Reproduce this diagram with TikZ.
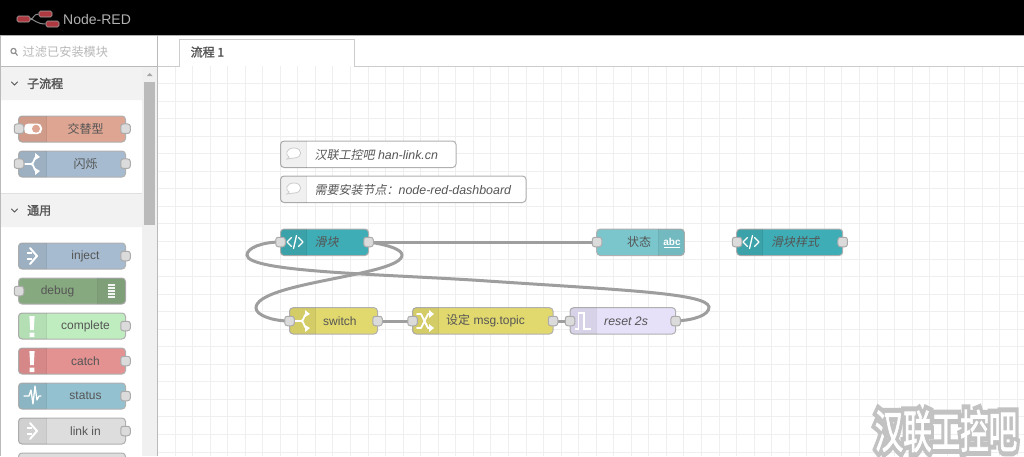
\documentclass[tikz,border=0pt]{standalone}
\usepackage{fontspec}
\setmainfont{Liberation Sans}
\newfontfamily\cj{Noto Sans CJK SC}
\newfontfamily\cjs[FakeSlant=0.2]{Noto Sans CJK SC}
\newfontfamily\cjb[FakeBold=2]{Noto Sans CJK SC}
\newfontfamily\cjhalo[FakeBold=24]{Noto Sans CJK SC}
\usetikzlibrary{calc}
\pgfdeclarelayer{under}
\pgfsetlayers{under,main}
\definecolor{wirec}{HTML}{9E9E9E}
\definecolor{gridc}{HTML}{EFEFEF}
\definecolor{edgec}{HTML}{B0B0B0}
\definecolor{portedge}{HTML}{ABABAB}
\definecolor{txt}{HTML}{555555}
\definecolor{cswap}{HTML}{DEA592}
\definecolor{cblue}{HTML}{A6BBCF}
\definecolor{cdebug}{HTML}{87A980}
\definecolor{ccomp}{HTML}{C0EDC0}
\definecolor{ccatch}{HTML}{E49191}
\definecolor{cstat}{HTML}{94C1D0}
\definecolor{clink}{HTML}{DDDDDD}
\definecolor{cteal}{HTML}{3FADB5}
\definecolor{cyel}{HTML}{E2D96E}
\definecolor{cpurp}{HTML}{E6E0F8}
\definecolor{ctext}{HTML}{7AC6CC}
\definecolor{lred}{HTML}{AD3A40}
\definecolor{halo}{HTML}{C2C2C2}
\tikzset{
 x=1pt,y=-1pt,
 body/.style={draw=edgec,line width=1pt,rounded corners=3.5pt,inner sep=0pt,outer sep=0pt},
 portnode/.style={draw=portedge,fill=black!14,line width=1pt,rounded corners=2.5pt,minimum size=9.5pt,inner sep=0pt},
 lbl/.style={font=\fontsize{12}{14}\selectfont,text=txt,inner sep=0pt},
 lbli/.style={font=\fontsize{12}{14}\selectfont\itshape,text=txt,inner sep=0pt},
 cat/.style={font=\fontsize{12}{14}\selectfont\cjb,text=txt,inner sep=0pt},
 wire/.style={draw=wirec,line width=3pt,line cap=round},
 ic/.style={draw=white,line width=1.5pt,line cap=round,line join=round},
 chev/.style={draw=txt,line width=1pt,line cap=round},
 logonode/.style={fill=lred,draw=black!35,line width=.6pt,rounded corners=1.5pt,minimum width=13pt,minimum height=6pt,inner sep=0pt},
}
\newcommand\flowbox[6]{%
 \pgfmathsetmacro\cxx{(#2+#4)/2}\pgfmathsetmacro\cyy{(#3+#5)/2}%
 \pgfmathsetmacro\www{#4-#2}\pgfmathsetmacro\hhh{#5-#3}%
 \node[body,fill=#6,minimum width=\www pt,minimum height=\hhh pt] (#1) at (\cxx,\cyy) {};}
\newcommand\panel[4]{%
 \pgfmathsetmacro\pxx{#1+#4}%
 \fill[fill=black,fill opacity=.06,rounded corners=3.5pt] (\pxx,#2) -- (#1,#2) -- (#1,#3) [sharp corners] -- (\pxx,#3) -- cycle;
 \draw[draw=black,draw opacity=.07,line width=.8pt] (\pxx,#2) -- (\pxx,#3);}
\newcommand\iconcode[2]{\begin{scope}[shift={(#1,#2)}]
 \draw[ic,line width=1.3pt] (-3.5,-4.5)--(-8,0)--(-3.5,4.5) (3.5,-4.5)--(8,0)--(3.5,4.5) (1.5,-6.5)--(-1.5,6.5);\end{scope}}
\newcommand\iconswitch[2]{\begin{scope}[shift={(#1,#2)}]
 \draw[ic,line width=1.8pt] (-8,0)--(-2,0) .. controls (1,0) and (1,-6) .. (3,-7) (-2,0) .. controls (1,0) and (1,6) .. (3,7);
 \fill[white] (2,-11)--(7,-7)--(2,-4)--cycle (2,11)--(7,7)--(2,4)--cycle;\end{scope}}
\newcommand\iconshuffle[2]{\begin{scope}[shift={(#1,#2)}]
 \draw[ic,line width=1.8pt] (-8,-7) -- (-4,-7) -- (3,7) -- (5,7) (-8,7) -- (-4,7) -- (3,-7) -- (5,-7);
 \fill[white] (4,-11)--(9,-7)--(4,-3)--cycle (4,11)--(9,7)--(4,3)--cycle;\end{scope}}
\newcommand\iconinject[2]{\begin{scope}[shift={(#1,#2)}]
 \draw[ic,line width=2pt,line cap=butt] (-5,-3)--(0,-3) (-5,3)--(0,3);
 \draw[ic,line width=2pt] (-2,-8)--(5,0)--(-2,8);\end{scope}}
\newcommand\iconbang[2]{\fill[white] ($(#1,#2)+(-2.6,-10)$) -- ($(#1,#2)+(2.6,-10)$) -- ($(#1,#2)+(1.8,4)$) -- ($(#1,#2)+(-1.8,4)$) -- cycle ($(#1,#2)+(-2.4,6.5)$) rectangle ($(#1,#2)+(2.4,11)$);}
\newcommand\iconbubble[2]{\begin{scope}[shift={(#1,#2)}]
 \draw[draw=black!20,fill=white,line width=.8pt] (-7,5) .. controls (-7,5) and (-5,3.5) .. (-5,3) .. controls (-9,1) and (-8,-6) .. (0,-6) .. controls (9,-6) and (9,4) .. (0,4) .. controls (-3,4) and (-5,5) .. (-7,5) -- cycle;\end{scope}}
\begin{document}
\begin{tikzpicture}
\useasboundingbox (0,0) rectangle (1024,456);
\begin{pgfonlayer}{under}
 \fill[white] (0,0) rectangle (1024,456);
 \foreach \i in {0,...,49} {\pgfmathsetmacro\gx{175+17.55*\i}\draw[gridc,line width=1pt] (\gx,66) -- (\gx,456);}
 \foreach \i in {0,...,21} {\pgfmathsetmacro\gy{83.5+17.55*\i}\draw[gridc,line width=1pt] (158,\gy) -- (1024,\gy);}
\end{pgfonlayer}
% header
\fill[black] (0,0) rectangle (1024,35);
\draw[edgec,line width=1pt] (0,35.5) -- (1024,35.5);
\node[logonode] (logoa) at (23.5,19) {};
\node[logonode] (logob) at (45.5,14) {};
\node[logonode] (logoc) at (52.5,24) {};
\draw[black!45,line width=1pt] (logoa.east) .. controls (34,19) and (33,14) .. (logob.west);
\draw[black!45,line width=1pt] (logoa.east) .. controls (34,19) and (36,24) .. (logoc.west);
\node[font=\fontsize{14}{16}\selectfont,text=black!30,inner sep=0pt,anchor=west] (title) at (63,19) {Node-RED};
% palette
\fill[white] (0,36) rectangle (157,456);
\fill[black!5] (1,67) rectangle (142,100) (1,193) rectangle (142,227);
\draw[black!12,line width=.8pt] (1,193) -- (142,193);
\fill[black!6] (142,67) rectangle (157,456);
\fill[black!27] (144,82) rectangle (155,225);
\fill[black!35] (147,76) -- (152.5,76) -- (149.7,73) -- cycle;
\draw[black!27,line width=1pt] (0.5,36) -- (0.5,456) (157.5,36) -- (157.5,456) (0,66.5) -- (157,66.5);
% search
\draw[black!45,line width=1.1pt] (13.5,51) circle (2.6pt) (15.5,53) -- (17.5,55.5);
\node[font=\fontsize{12.2}{14}\selectfont\cj,text=black!28,inner sep=0pt,anchor=west] (search) at (22.5,52) {过滤已安装模块};
% tab
\draw[black!20,line width=1pt] (157.5,66.5) -- (179.5,66.5) -- (179.5,39.5) -- (354.5,39.5) -- (354.5,66.5) -- (1024,66.5);
\node[font=\fontsize{12}{14}\selectfont\cjb,text=txt,inner sep=0pt,anchor=west] (tab) at (190.5,52) {流程 1};
% categories
\draw[chev] (11.5,82) -- (14.5,85) -- (17.5,82);
\node[cat,anchor=west] (cata) at (27,83.5) {子流程};
\draw[chev] (11.5,209) -- (14.5,212) -- (17.5,209);
\node[cat,anchor=west] (catb) at (27,210.5) {通用};
% palette nodes
\flowbox{p1}{18.5}{116}{125.5}{142}{cswap}
\panel{18.5}{116}{142}{28}
\fill[white,rounded corners=4.5pt] (24,123.5) rectangle (42,134);
\fill[cswap] (36,128.7) circle (4pt);
\node[portnode] (p1l) at (19,128.7) {}; \node[portnode] (p1r) at (125.5,128.7) {};
\node[lbl,font=\fontsize{12}{14}\selectfont\cj] (p1t) at (85.5,128.5) {交替型};
\flowbox{p2}{18.5}{151}{125.5}{177}{cblue}
\panel{18.5}{151}{177}{28}
\iconswitch{33}{164}
\node[portnode] (p2l) at (19,163.7) {}; \node[portnode] (p2r) at (125.5,163.7) {};
\node[lbl,font=\fontsize{12}{14}\selectfont\cj] (p2t) at (85.5,163.5) {闪烁};
\flowbox{p3}{18.5}{243}{125.5}{269}{cblue}
\panel{18.5}{243}{269}{28}
\iconinject{32}{256}
\node[portnode] (p3r) at (125.5,256) {};
\node[lbl] (p3t) at (85.5,256) {inject};
\flowbox{p4}{18.5}{278}{125.5}{304}{cdebug}
\panel{125.5}{278}{304}{-28}
\foreach \yy in {285,288,291,294,297} {\draw[white,opacity=.9,line width=1.2pt] (107.5,\yy) -- (115,\yy);}
\node[portnode] (p4l) at (19,291) {};
\node[lbl] (p4t) at (57.5,291) {debug};
\flowbox{p5}{18.5}{313}{125.5}{339}{ccomp}
\panel{18.5}{313}{339}{28}
\iconbang{32}{326}
\node[portnode] (p5r) at (125.5,326) {};
\node[lbl] (p5t) at (85.5,326) {complete};
\flowbox{p6}{18.5}{348}{125.5}{374}{ccatch}
\panel{18.5}{348}{374}{28}
\iconbang{32}{361}
\node[portnode] (p6r) at (125.5,361) {};
\node[lbl] (p6t) at (85.5,361) {catch};
\flowbox{p7}{18.5}{383}{125.5}{409}{cstat}
\panel{18.5}{383}{409}{28}
\draw[ic,line width=1.3pt] (24,396) -- (29,396) -- (31,390) -- (33,404) -- (35,386) -- (37,400) -- (39,396) -- (41,396);
\node[portnode] (p7r) at (125.5,396) {};
\node[lbl] (p7t) at (85.5,396) {status};
\flowbox{p8}{18.5}{418}{125.5}{444}{clink}
\panel{18.5}{418}{444}{28}
\iconinject{32}{431}
\node[portnode] (p8r) at (125.5,431) {};
\node[lbl] (p8t) at (85.5,431) {link in};
\flowbox{p9}{18.5}{453}{125.5}{479}{clink}
% comments
\flowbox{c1}{280.5}{141}{456}{167.5}{white}
\panel{280.5}{141}{167.5}{26}
\iconbubble{294}{154}
\node[lbli,anchor=west] (c1t) at (314.5,154.5) {{\cjs 汉联工控吧} \fontsize{12.4}{14}\selectfont han-link.cn};
\flowbox{c2}{280.5}{176}{526}{202.5}{white}
\panel{280.5}{176}{202.5}{26}
\iconbubble{294}{189}
\node[lbli,anchor=west] (c2t) at (314.5,189.5) {{\cjs 需要安装节点：}\fontsize{12.4}{14}\selectfont node-red-dashboard};
% flow nodes
\flowbox{n1}{280.5}{229}{368.5}{255.5}{cteal}
\panel{280.5}{229}{255.5}{26}
\iconcode{295}{242}
\node[portnode] (n1l) at (280.5,242) {}; \node[portnode] (n1r) at (368.5,242) {};
\node[lbl,font=\fontsize{12}{14}\selectfont\cjs,anchor=west] (n1t) at (314.5,242) {滑块};
\flowbox{n2}{596.7}{229}{684.3}{255.5}{ctext}
\panel{684.3}{229}{255.5}{-26}
\node[font=\fontsize{10}{12}\selectfont\bfseries,text=white,inner sep=0pt] (n2a) at (672,241.5) {abc};
\draw[white,line width=1.2pt] (664,247.5) -- (680,247.5);
\node[portnode] (n2l) at (597,242) {};
\node[lbl,font=\fontsize{12}{14}\selectfont\cj] (n2t) at (639,242) {状态};
\flowbox{n3}{736.7}{229}{842.7}{255.5}{cteal}
\panel{736.7}{229}{255.5}{26}
\iconcode{751}{242}
\node[portnode] (n3l) at (737,242) {}; \node[portnode] (n3r) at (842.7,242) {};
\node[lbl,font=\fontsize{12}{14}\selectfont\cjs,anchor=west] (n3t) at (771,242) {滑块样式};
\flowbox{n4}{289.5}{307.7}{377.5}{334}{cyel}
\panel{289.5}{307.7}{334}{26}
\iconswitch{303}{321}
\node[portnode] (n4l) at (289.5,321) {}; \node[portnode] (n4r) at (377.5,321) {};
\node[lbl,anchor=west] (n4t) at (323,321) {switch};
\flowbox{n5}{412.5}{307.7}{553}{334}{cyel}
\panel{412.5}{307.7}{334}{26}
\iconshuffle{425}{321}
\node[portnode] (n5l) at (412.5,321) {}; \node[portnode] (n5r) at (553,321) {};
\node[lbl,anchor=west] (n5t) at (446,321) {{\cj 设定} msg.topic};
\flowbox{n6}{570}{307.7}{675.7}{334}{cpurp}
\panel{570}{307.7}{334}{26}
\draw[ic,line width=1.6pt,line cap=butt,line join=miter] (575,329) -- (578.5,329) -- (578.5,313) -- (584,313) -- (584,329) -- (591,329);
\node[portnode] (n6l) at (570,321) {}; \node[portnode] (n6r) at (675.7,321) {};
\node[lbli,anchor=west] (n6t) at (604,321) {\fontsize{12.3}{14}\selectfont reset 2s};
% wires
\begin{pgfonlayer}{under}
 \draw[wire] (n1r.center) -- (n2l.center);
 \draw[wire] (n4r.center) -- (n5l.center);
 \draw[wire] (n5r.center) -- (n6l.center);
 \draw[wire] (n1r.center) .. controls (390,245) and (402,250) .. (402,255) .. controls (402,276) and (256,282) .. (256,308) .. controls (256,315) and (272,321) .. (n4l.center);
 \draw[wire] (n6r.center) .. controls (695,320) and (709,315) .. (709,307) .. controls (707,293) and (620,290) .. (480,280.5) .. controls (380,274) and (247,272) .. (247,255) .. controls (247,248) and (262,242) .. (n1l.center);
\end{pgfonlayer}
% watermark: grey halo under white text
\node[font=\fontsize{28.5}{30}\selectfont\cjhalo,text=halo,inner sep=0pt] (wma) at (946,431) {\scalebox{1}[1.6]{汉联工控吧}};
\node[font=\fontsize{28.5}{30}\selectfont\cjb,text=white,inner sep=0pt] (wmb) at (946,431) {\scalebox{1}[1.6]{汉联工控吧}};
\end{tikzpicture}
\end{document}
